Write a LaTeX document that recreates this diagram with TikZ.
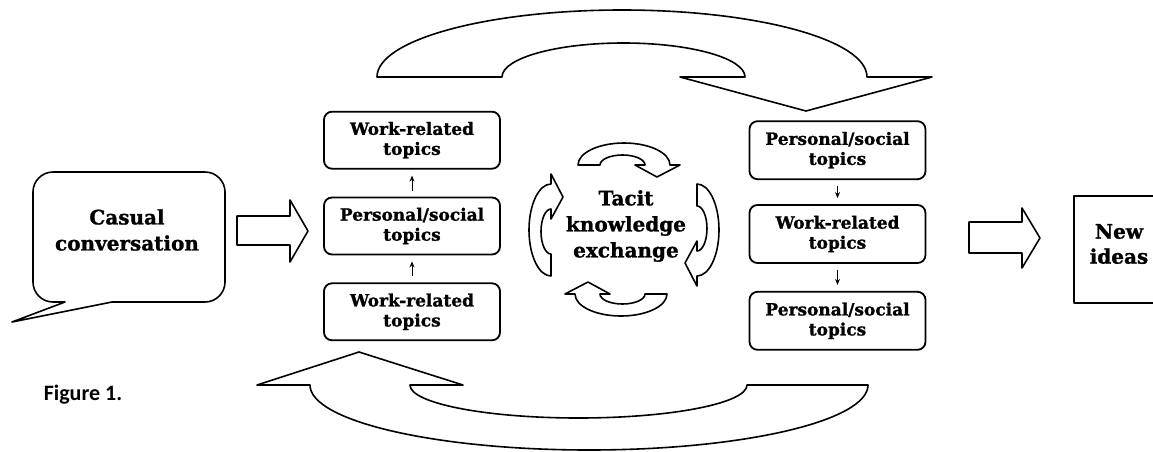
\documentclass[tikz,border=0pt]{standalone}
\usepackage{fontspec}
\setmainfont{DejaVu Serif}[BoldFeatures={FakeBold=1.2}]
\newfontfamily\captionfont{Carlito}
\usetikzlibrary{positioning, arrows.meta}

\begin{document}
\begin{tikzpicture}[x=0.5pt, y=-0.5pt, line width=0.8pt, line join=round,
    topic/.style = {draw, line width=0.9pt, rounded corners=4pt, align=center, minimum width=88pt, minimum height=28.5pt, inner sep=1pt, font=\fontsize{8.5}{10}\selectfont\bfseries},
    title/.style = {align=center, font=\fontsize{10}{13}\selectfont\bfseries},
    link/.style = {line width=0.5pt, -{Stealth[length=3pt, width=2.5pt]}, shorten <=3pt, shorten >=3pt}]

      \useasboundingbox (0,0) rectangle (1153,451);

      \node[title] (casual) at (127,230) {Casual\\conversation};
      \draw (65,302) [rounded corners=10pt] -- (33,302) -- (33,172) -- (225,172) -- (225,302) [sharp corners] -- (112,302) -- (12,322) -- cycle;

      \draw (237,216) -- (290,216) -- (290,200) -- (308,231) -- (290,262) -- (290,245) -- (237,245) -- cycle;

      \node[topic] (L2) at (412,226) {Personal/social\\topics};
      \node[topic, above=13.5pt of L2] (L1) {Work-related\\topics};
      \node[topic, below=13.5pt of L2] (L3) {Work-related\\topics};
      \draw[link] (L3) -- (L2);
      \draw[link] (L2) -- (L1);

      \node[title] (tacit) at (626,226) {Tacit\\knowledge\\exchange};

      \foreach \ang/\px/\py in {0/624/165, -90/697/230, 180/621/294, 90/551/230}
        \draw[shift={(\px,\py)}, rotate=\ang] (-46,0) arc[start angle=180, end angle=360, x radius=46, y radius=22] -- (56,0) -- (33,12) -- (11,0) -- (21,0) arc[start angle=0, end angle=-180, x radius=22.5, y radius=10] -- cycle;

      \node[topic, minimum height=29pt] (R2) at (837.5,234) {Work-related\\topics};
      \node[topic, minimum height=29pt, above=12pt of R2] (R1) {Personal/social\\topics};
      \node[topic, minimum height=29pt, below=13.5pt of R2] (R3) {Personal/social\\topics};
      \draw[link] (R1) -- (R2);
      \draw[link] (R2) -- (R3);

      \draw (377,77) arc[start angle=180, end angle=360, x radius=245, y radius=67] -- (932,77) -- (806,111) -- (680,77) -- (745,77) arc[start angle=0, end angle=-180, x radius=121.5, y radius=34] -- cycle;
      \draw (310,385) arc[start angle=180, end angle=0, x radius=279, y radius=65] -- (747,385) arc[start angle=0, end angle=180, x radius=168.5, y radius=33] -- (463,385) -- (359,352) -- (257,385) -- cycle;

      \draw (969,222) -- (1022,222) -- (1022,208) -- (1040,238) -- (1022,268) -- (1022,253) -- (969,253) -- cycle;

      \node[draw, line width=0.9pt, minimum width=45pt, minimum height=53.5pt] (ideas) at (1119,249.5) {};
      \node[title, font=\fontsize{10}{12.5}\selectfont\bfseries] (ideastext) at (1119,244) {New\\ideas};

      \node[anchor=west, inner sep=0pt, font=\captionfont\fontsize{11}{13}\selectfont\bfseries] (fig) at (43,395) {Figure 1.};

\end{tikzpicture}
\end{document}
